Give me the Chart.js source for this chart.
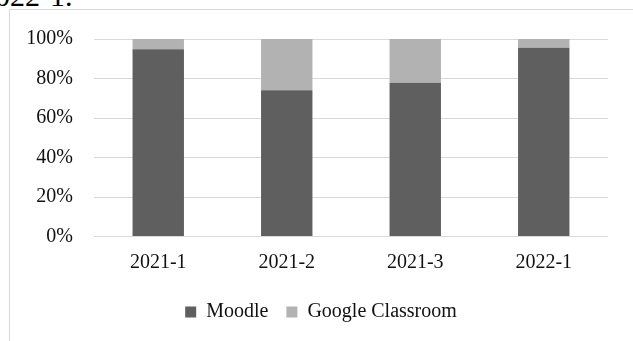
<!DOCTYPE html>
<html>
<head>
<meta charset="utf-8">
<script src="https://cdn.jsdelivr.net/npm/chart.js@4"></script>
<style>
  html, body { margin: 0; padding: 0; background: #fff; overflow: hidden; }
  body { width: 633px; height: 341px; position: relative; }
  #caption {
    position: absolute; left: -20px; top: -19px;
    font: 30px/30px 'Liberation Serif', 'Times New Roman', serif;
    color: #000; white-space: nowrap;
  }
  #frame {
    position: absolute; left: 9px; top: 9px; width: 700px; height: 400px;
    border: 1px solid #d9d9d9;
  }
  #graph { position: absolute; left: 0; top: 0; }
</style>
</head>
<body>
<div id="caption">2022-1.</div>
<div id="frame"></div>
<canvas id="graph" width="633" height="341"></canvas>
<script>
// terms and the share of courses on each platform (percent)
const terms = ['2021-1', '2021-2', '2021-3', '2022-1']
const moodle = [94.8, 74.1, 77.8, 95.6]
const googleClassroom = [5.2, 25.9, 22.2, 4.4]
const yTicks = [0, 20, 40, 60, 80, 100]

Chart.defaults.font.family = "'Liberation Serif', 'Times New Roman', serif"
Chart.defaults.font.size = 20
Chart.defaults.color = '#111'

new Chart(document.querySelector('#graph'),
{
    type: 'bar',
    data:
    {
        labels: terms,
        datasets:
        [
            {label: 'Moodle', data: moodle, backgroundColor: '#5f5f5f'},
            {label: 'Google Classroom', data: googleClassroom, backgroundColor: '#b2b2b2'}
        ]
    },
    options:
    {
        responsive: false,
        animation: false,
        layout: {padding: {left: 0, right: 25, top: 39, bottom: 9}},
        datasets: {bar: {barPercentage: 0.4, categoryPercentage: 1}},
        plugins:
        {
            legend:
            {
                position: 'bottom',
                labels: {boxWidth: 11, boxHeight: 11, padding: 18}
            },
            tooltip: {enabled: false}
        },
        scales:
        {
            x:
            {
                stacked: true,
                afterFit: (scale) => { scale.height = 47.5 },
                grid: {display: false, drawTicks: false},
                border: {display: false},
                ticks: {padding: 14.5}
            },
            y:
            {
                stacked: true,
                min: 0,
                max: 100,
                afterFit: (scale) => { scale.width = 94 },
                afterBuildTicks: (scale) => { scale.ticks = yTicks.map(v => ({value: v})) },
                grid: {color: '#d9d9d9', lineWidth: 1, drawTicks: false},
                border: {display: false},
                ticks: {padding: 21, callback: (v) => v + '%'}
            }
        }
    },
    plugins:
    [
        {
            // the legend sits a little right of the canvas centre
            id: 'legendShift',
            afterLayout(chart)
            {
                chart.legend.left += 17
                chart.legend.right += 17
            }
        }
    ]
})
</script>
</body>
</html>
